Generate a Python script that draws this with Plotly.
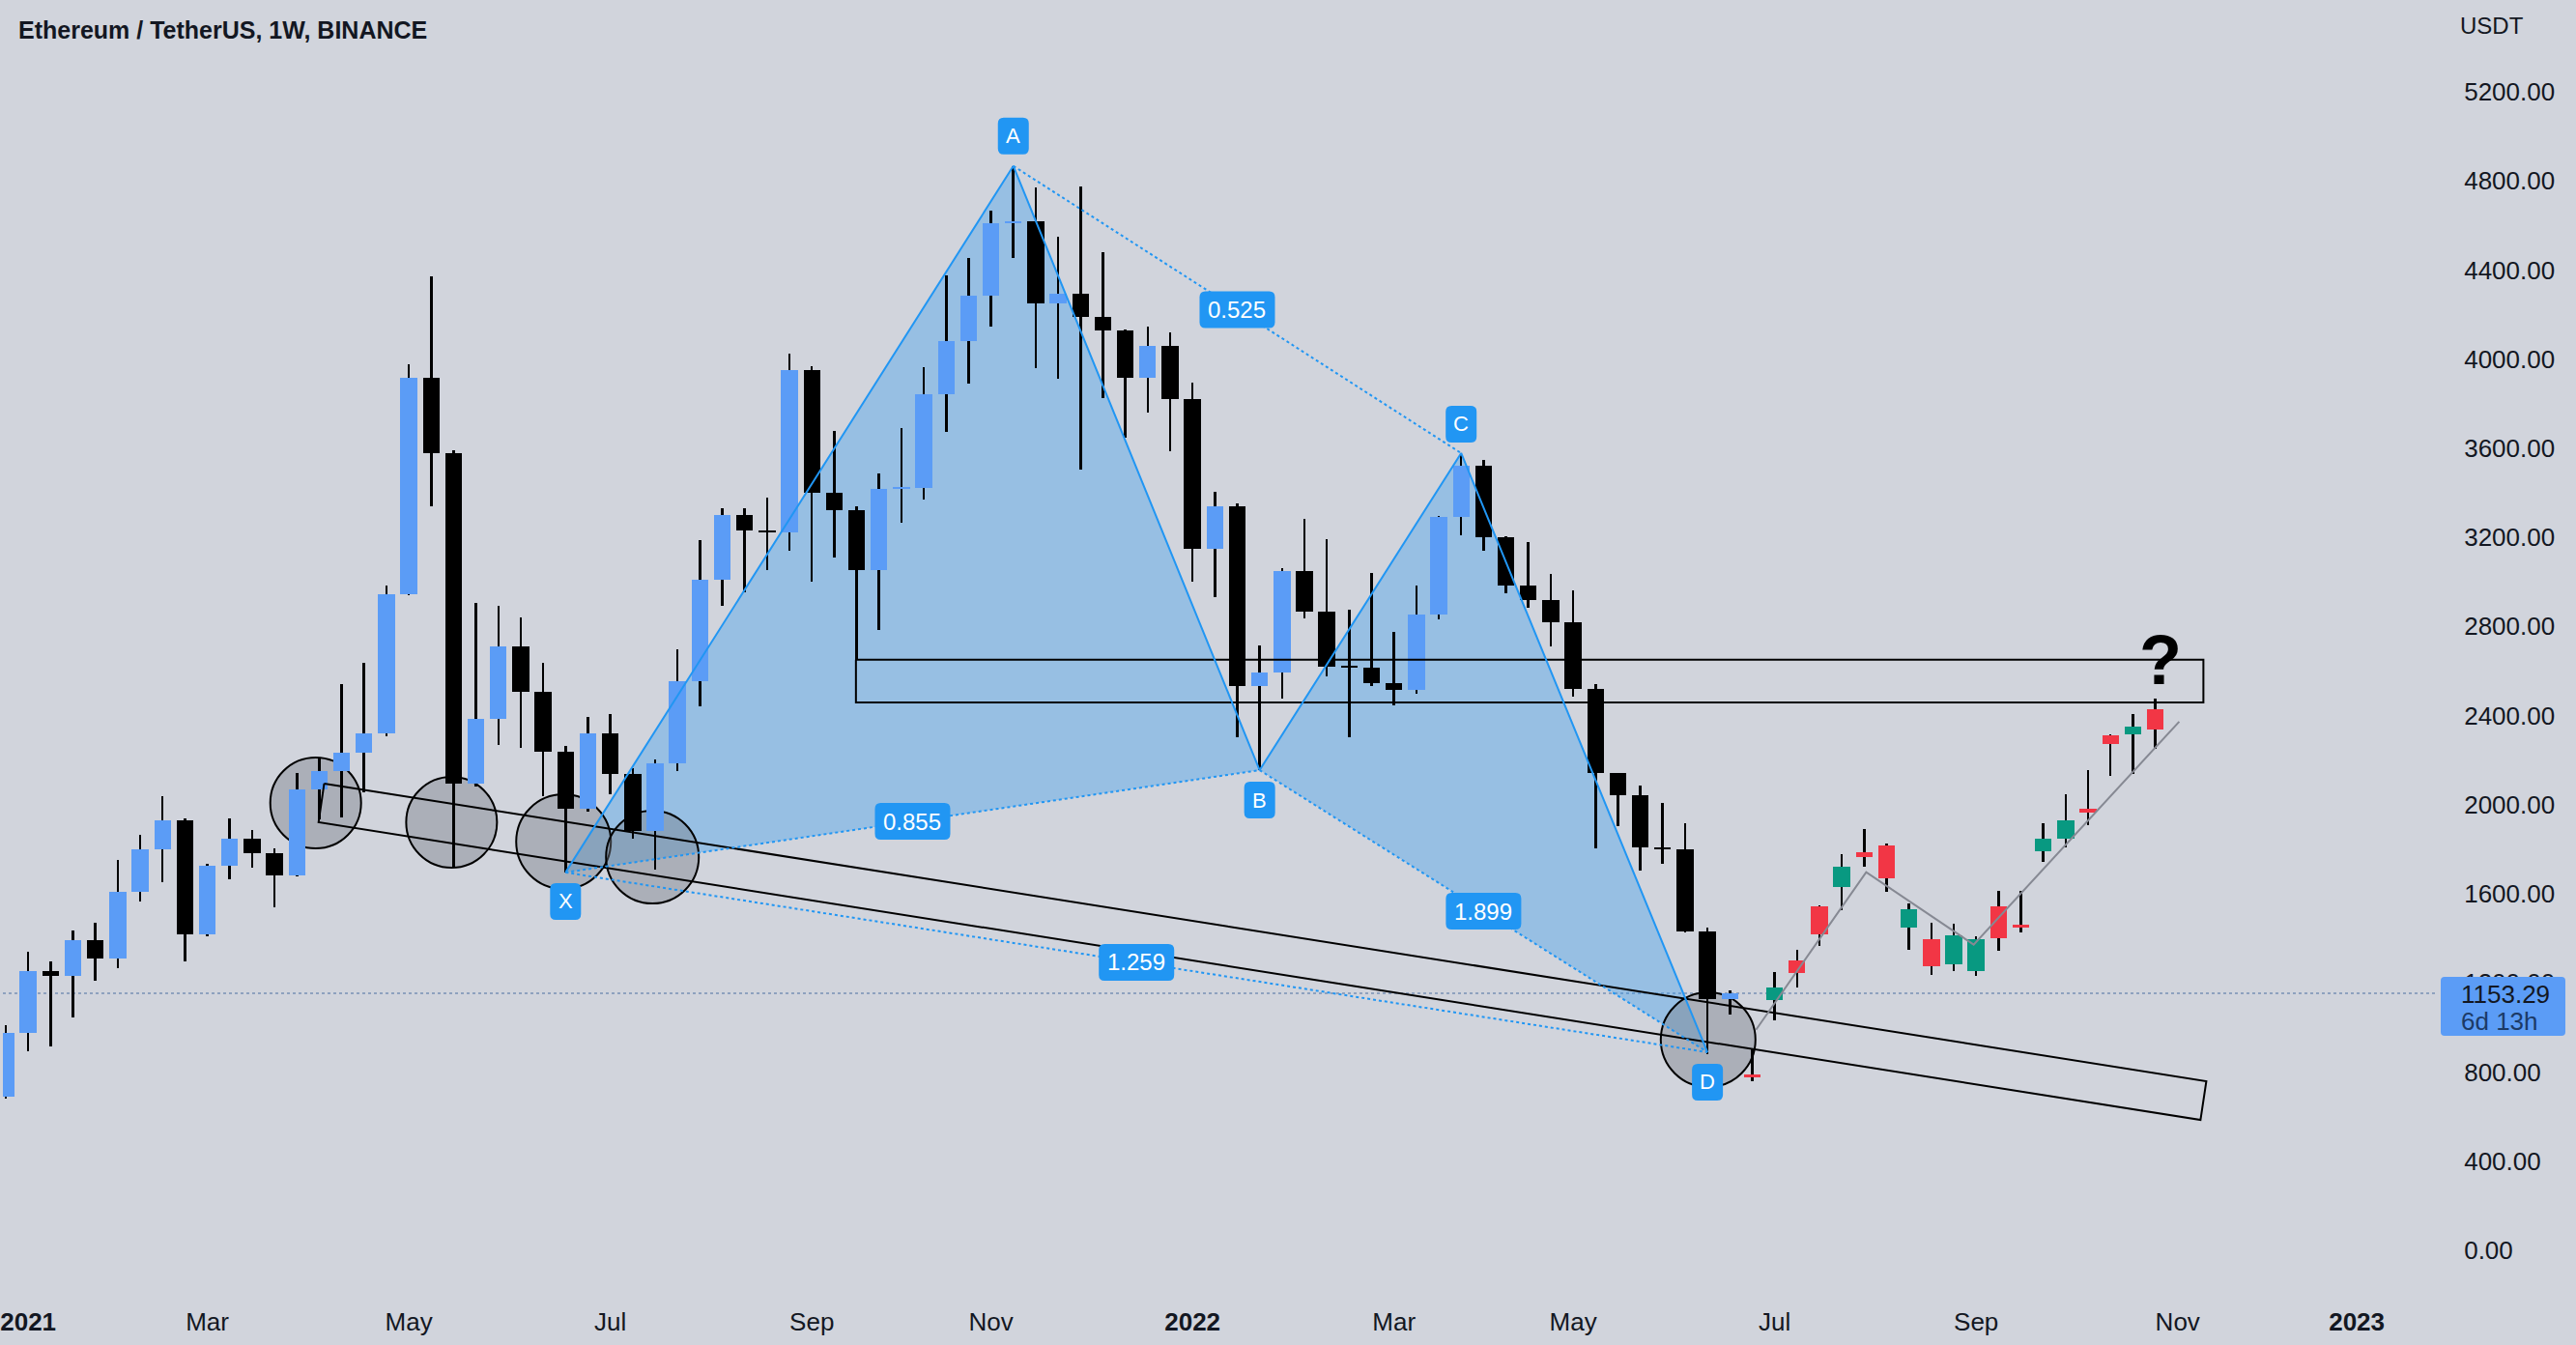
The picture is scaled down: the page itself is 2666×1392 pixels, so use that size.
import pandas as pd
import plotly.graph_objects as go

# ---------------- data ----------------
week0 = "2020-12-28"
real_open = [688, 974, 1253, 1231, 1393, 1310, 1609, 1798, 1930, 1418, 1726, 1848, 1783, 1684, 2070, 2149, 2232, 2319, 2946, 3918,
             3576, 2095, 2386, 2710, 2505, 2239, 1983, 2319, 2137, 1883, 2187, 2555, 3011, 3302, 3232, 3222, 3949, 3402, 3322, 3055,
             3416, 3422, 3841, 4083, 4287, 4611, 4620, 4252, 4294, 4190, 4128, 3916, 4058, 3821, 3149, 3341, 2534, 2594, 3050, 2868,
             2619, 2615, 2544, 2514, 2855, 3291, 3523, 3199, 2982, 2918, 2821, 2518, 2141, 2041, 1808, 1800, 1432, 1127]
real_high = [1011, 1340, 1298, 1435, 1472, 1754, 1866, 2037, 1940, 1735, 1940, 1888, 1803, 2144, 2207, 2543, 2637, 2983, 3979, 4373,
             3590, 2904, 2891, 2842, 2638, 2262, 2393, 2406, 2162, 2202, 2697, 3188, 3332, 3332, 3377, 4024, 3969, 3676, 3341, 3485,
             3690, 3966, 4377, 4456, 4668, 4867, 4772, 4551, 4775, 4481, 4133, 4145, 4120, 3896, 3406, 3353, 2714, 3062, 3281, 3192,
             2875, 3042, 2776, 2982, 3295, 3578, 3548, 3205, 3179, 3037, 2960, 2540, 2141, 2085, 2007, 1919, 1450, 1167]
real_low = [680, 892, 917, 1044, 1211, 1268, 1567, 1654, 1298, 1410, 1666, 1716, 1540, 1678, 1933, 1945, 2057, 2306, 2940, 3339,
            1721, 2082, 2269, 2257, 2037, 1696, 1970, 2045, 1846, 1709, 2149, 2443, 2891, 2954, 3053, 3140, 3003, 3108, 2651, 2783,
            3266, 3368, 3672, 3889, 4145, 4456, 3958, 3913, 3505, 3826, 3647, 3759, 3585, 2999, 2933, 2303, 2155, 2477, 2838, 2577,
            2303, 2534, 2445, 2497, 2833, 3211, 3142, 2950, 2883, 2709, 2485, 1804, 1903, 1704, 1735, 1425, 879, 1056]
real_close = [974, 1253, 1231, 1393, 1310, 1609, 1798, 1930, 1418, 1726, 1848, 1783, 1684, 2070, 2149, 2232, 2319, 2946, 3918, 3576,
              2095, 2386, 2710, 2505, 2239, 1983, 2319, 2137, 1883, 2187, 2555, 3011, 3302, 3232, 3222, 3949, 3402, 3322, 3055, 3416,
              3422, 3841, 4083, 4287, 4611, 4620, 4252, 4294, 4190, 4128, 3916, 4058, 3821, 3149, 3341, 2534, 2594, 3050, 2868, 2619,
              2615, 2544, 2514, 2855, 3291, 3523, 3199, 2982, 2918, 2821, 2518, 2141, 2041, 1808, 1800, 1432, 1127, 1153.29]

proj_start = "2022-06-27"
proj_open = [790, 1122, 1299, 1543, 1631, 1786, 1819, 1450, 1395, 1284, 1255, 1543, 1457, 1793, 1848, 1983, 2311, 2317, 2428]
proj_high = [900, 1251, 1348, 1550, 1780, 1890, 1825, 1558, 1470, 1465, 1410, 1614, 1614, 1915, 2045, 2156, 2317, 2406, 2477]
proj_low = [757, 1034, 1178, 1366, 1527, 1720, 1609, 1350, 1237, 1255, 1233, 1344, 1426, 1742, 1808, 1908, 2129, 2140, 2251]
proj_close = [775, 1178, 1244, 1417, 1720, 1764, 1669, 1532, 1273, 1414, 1395, 1399, 1450, 1846, 1930, 1966, 2273, 2350, 2339]

last_price = 1153.29
countdown = "6d 13h"

tick_dates = ["2021-01-04", "2021-03-01", "2021-05-03", "2021-07-05", "2021-09-06", "2021-11-01", "2022-01-03",
              "2022-03-07", "2022-05-02", "2022-07-04", "2022-09-05", "2022-11-07", "2023-01-02"]
tick_text = ["<b>2021</b>", "Mar", "May", "Jul", "Sep", "Nov", "<b>2022</b>", "Mar", "May", "Jul", "Sep", "Nov", "<b>2023</b>"]
price_ticks = list(range(0, 5201, 400))

# harmonic pattern points
pat_names = ["X", "A", "B", "C", "D"]
pat_dates = ["2021-06-21", "2021-11-08", "2022-01-24", "2022-03-28", "2022-06-13"]
pat_values = [1696, 4867, 2155, 3578, 889]
ratio_pairs = [("A", "C", "0.525"), ("X", "B", "0.855"), ("B", "D", "1.899"), ("X", "D", "1.259")]

# drawings (positions in weeks from week0)
circle_weeks = [13.84, 19.91, 24.91, 28.88, 76.03]
circle_values = [2008, 1921, 1834, 1765, 945]
channel_weeks = [14.22, 98.28, 98.02, 13.97, 14.22]
channel_values = [2095, 759, 585, 1921, 2095]
zone_weeks = [37.97, 98.15]
zone_values = [2459, 2651]
path_weeks = [78.17, 83.09, 87.89, 97.07]
path_values = [990, 1697, 1372, 2373]
qmark_week, qmark_value = 96.25, 2650

# ---------------- helpers ----------------
base = pd.Timestamp(week0)
WEEK_MS = 7 * 24 * 3600 * 1000


def wk(w):
    return base + pd.Timedelta(days=7 * w)


def rrect(x0, x1, y0, y1, r):
    return (f"M {x0 + r},{y0} L {x1 - r},{y0} Q {x1},{y0} {x1},{y0 + r} L {x1},{y1 - r} "
            f"Q {x1},{y1} {x1 - r},{y1} L {x0 + r},{y1} Q {x0},{y1} {x0},{y1 - r} "
            f"L {x0},{y0 + r} Q {x0},{y0} {x0 + r},{y0} Z")


BG = "#d1d4dc"
BLUE_UP = "#5b9cf6"
DOWN = "#000000"
GREEN = "#089981"
RED = "#f23645"
PAT = "#2196f3"
TXT = "#131722"
FONT = "Liberation Sans, Arial, sans-serif"

real_dates = pd.date_range(week0, periods=len(real_open), freq="7D")
proj_dates = pd.date_range(proj_start, periods=len(proj_open), freq="7D")

fig = go.Figure()

# wicks (bars so they sit under the bodies)
all_dates = list(real_dates) + list(proj_dates)
all_high = real_high + proj_high
all_low = real_low + proj_low
fig.add_trace(go.Bar(x=all_dates, base=all_low, y=[h - l for h, l in zip(all_high, all_low)],
                     width=0.11 * WEEK_MS, marker=dict(color="#000000", line=dict(width=0)), hoverinfo="skip"))

MINH = 10


def bodies(dates, o, c, upc, dnc):
    b = [min(a, z) for a, z in zip(o, c)]
    h = [max(abs(z - a), MINH) for a, z in zip(o, c)]
    col = [upc if z >= a else dnc for a, z in zip(o, c)]
    return go.Bar(x=dates, base=b, y=h, width=0.75 * WEEK_MS,
                  marker=dict(color=col, line=dict(width=0)), hoverinfo="skip")


fig.add_trace(bodies(real_dates, real_open, real_close, BLUE_UP, DOWN))
fig.add_trace(bodies(proj_dates, proj_open, proj_close, GREEN, RED))

shapes = []
pts = {n: (d, v) for n, d, v in zip(pat_names, pat_dates, pat_values)}

# pattern fills (below candles)
for tri in [("X", "A", "B"), ("B", "C", "D")]:
    p = " L ".join(f"{pts[n][0]},{pts[n][1]}" for n in tri)
    shapes.append(dict(type="path", path="M " + p + " Z", xref="x", yref="y", layer="below",
                       fillcolor="rgba(33,150,243,0.33)", line=dict(width=0)))

# circles
rads = [47, 47, 49, 48, 49]
for w, v, r in zip(circle_weeks, circle_values, rads):
    shapes.append(dict(type="circle", xref="x", yref="y", xsizemode="pixel", ysizemode="pixel",
                       xanchor=wk(w), yanchor=v, x0=-r, x1=r, y0=-r, y1=r, layer="below",
                       fillcolor="rgba(120,123,134,0.42)", line=dict(color="#000000", width=2)))

# last price dotted line
shapes.append(dict(type="line", xref="paper", x0=0, x1=1, yref="y", y0=last_price, y1=last_price,
                   layer="below", line=dict(color="#7890b4", width=1.5, dash="dot")))

# channel, zone, projection path
fig.add_trace(go.Scatter(x=[wk(w) for w in channel_weeks], y=channel_values, mode="lines",
                         line=dict(color="#000000", width=2), hoverinfo="skip"))
fig.add_trace(go.Scatter(x=[wk(zone_weeks[0]), wk(zone_weeks[1]), wk(zone_weeks[1]), wk(zone_weeks[0]), wk(zone_weeks[0])],
                         y=[zone_values[1], zone_values[1], zone_values[0], zone_values[0], zone_values[1]],
                         mode="lines", line=dict(color="#000000", width=2), hoverinfo="skip"))
fig.add_trace(go.Scatter(x=[wk(w) for w in path_weeks], y=path_values, mode="lines",
                         line=dict(color="#868993", width=2), hoverinfo="skip"))

# pattern lines
fig.add_trace(go.Scatter(x=pat_dates, y=pat_values, mode="lines", line=dict(color=PAT, width=2), hoverinfo="skip"))
for a, b, _ in ratio_pairs:
    fig.add_trace(go.Scatter(x=[pts[a][0], pts[b][0]], y=[pts[a][1], pts[b][1]], mode="lines",
                             line=dict(color=PAT, width=2, dash="dot"), hoverinfo="skip"))

annotations = []
# letter labels
offs = {"X": -30, "A": 31, "B": -31, "C": 30, "D": -31}
for n in pat_names:
    d, v = pts[n]
    o = offs[n]
    shapes.append(dict(type="path", xref="x", yref="y", xsizemode="pixel", ysizemode="pixel",
                       xanchor=d, yanchor=v, path=rrect(-16, 16, o - 19, o + 19, 6),
                       fillcolor=PAT, line=dict(width=0), layer="above"))
    annotations.append(dict(x=d, y=v, yshift=o, text=n, showarrow=False, xanchor="center", yanchor="middle",
                            font=dict(family=FONT, size=22, color="#ffffff")))

# ratio labels at midpoints
for a, b, t in ratio_pairs:
    da, va = pd.Timestamp(pts[a][0]), pts[a][1]
    db, vb = pd.Timestamp(pts[b][0]), pts[b][1]
    dm = da + (db - da) / 2
    vm = (va + vb) / 2
    shapes.append(dict(type="path", xref="x", yref="y", xsizemode="pixel", ysizemode="pixel",
                       xanchor=dm, yanchor=vm, path=rrect(-39, 39, -19, 19, 6),
                       fillcolor=PAT, line=dict(width=0), layer="above"))
    annotations.append(dict(x=dm, y=vm, text=t, showarrow=False, xanchor="center", yanchor="middle",
                            font=dict(family=FONT, size=24, color="#ffffff")))

# question mark
annotations.append(dict(x=wk(qmark_week), y=qmark_value, text="<b>?</b>", showarrow=False,
                        xanchor="center", yanchor="middle", font=dict(family=FONT, size=72, color="#000000")))

# title and axis captions
annotations.append(dict(xref="paper", yref="paper", x=0, y=1, xshift=14, yshift=-31, xanchor="left", yanchor="middle",
                        text="<b>Ethereum / TetherUS, 1W, BINANCE</b>", showarrow=False,
                        font=dict(family=FONT, size=25, color=TXT)))
annotations.append(dict(xref="paper", yref="paper", x=1, y=1, xshift=21, yshift=-26, xanchor="left", yanchor="middle",
                        text="USDT", showarrow=False, font=dict(family=FONT, size=24, color=TXT)))

# last price box on axis
shapes.append(dict(type="path", xref="paper", yref="y", xsizemode="pixel", ysizemode="pixel",
                   xanchor=1, yanchor=last_price, path=rrect(3, 132, -44, 17, 4),
                   fillcolor=BLUE_UP, line=dict(width=0), layer="above"))
annotations.append(dict(xref="paper", yref="y", x=1, y=last_price, xshift=22, yshift=-1, xanchor="left",
                        yanchor="middle", text=f"{last_price:.2f}", showarrow=False,
                        font=dict(family=FONT, size=26, color=TXT)))
annotations.append(dict(xref="paper", yref="y", x=1, y=last_price, xshift=22, yshift=-29, xanchor="left",
                        yanchor="middle", text=countdown, showarrow=False,
                        font=dict(family=FONT, size=26, color="#1c3a66")))

fig.update_layout(
    width=2666, height=1392,
    margin=dict(l=0, r=143, t=0, b=54),
    paper_bgcolor=BG, plot_bgcolor=BG,
    barmode="overlay", bargap=0, showlegend=False, hovermode=False,
    shapes=shapes, annotations=annotations,
    xaxis=dict(type="date", range=[wk(-0.129), wk(108.62)], tickvals=tick_dates, ticktext=tick_text,
               showgrid=False, zeroline=False, showline=False, ticks="outside", ticklen=7,
               tickcolor="rgba(0,0,0,0)", tickfont=dict(family=FONT, size=26, color=TXT), fixedrange=True,
               ticklabeloverflow="allow"),
    yaxis=dict(side="right", range=[-191, 5612], tickvals=price_ticks, tickformat=".2f",
               showgrid=False, zeroline=False, showline=False, ticks="outside", ticklen=21,
               tickcolor="rgba(0,0,0,0)", tickfont=dict(family=FONT, size=26, color=TXT), fixedrange=True),
)

fig.write_html("out.html")
